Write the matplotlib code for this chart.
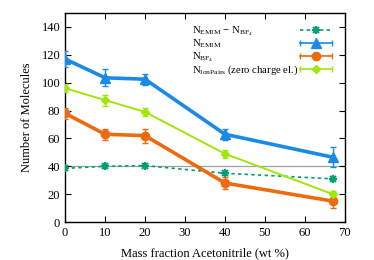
import numpy as np
import matplotlib.pyplot as plt

plt.rcParams["font.family"] = ["Liberation Serif", "DejaVu Serif"]
plt.rcParams["mathtext.fontset"] = "custom"
plt.rcParams["mathtext.rm"] = "Liberation Serif"

# Data

wt = [0, 10, 20, 40, 67]

n_emim = [117, 103.5, 102.5, 63, 46.5]
n_emim_err = [6, 6, 4, 4, 7]

n_bf4 = [78, 63, 62, 28, 15]
n_bf4_err = [4, 4, 5, 4, 5]

n_pairs = [96, 87.5, 79, 49, 20]
n_pairs_err = [3, 4, 3, 3, 2]

n_diff = [38.5, 40, 40.5, 35, 31]
n_diff_err = [1, 1, 1, 1, 1]

labels = [
    r"$\mathrm{N_{EMIM}}$ $-$ $\mathrm{N_{BF_4}}$",
    r"$\mathrm{N_{EMIM}}$",
    r"$\mathrm{N_{BF_4}}$",
    r"$\mathrm{N_{IonPairs}}$ (zero charge el.)",
]

col_diff = "#009e73"
col_emim = "#1a8ae6"
col_bf4 = "#ee6a0e"
col_pairs = "#a0e60a"

# Plot

fig = plt.figure(figsize=(3.74, 2.6), dpi=100)
ax = fig.add_axes([0.174, 0.146, 0.748, 0.804])

ax.axhline(40, color="#a0a0a0", linewidth=0.9, zorder=1)

ax.errorbar(wt, n_diff, yerr=n_diff_err, color=col_diff, linestyle=(0, (2, 2)),
            linewidth=1.2, marker="x", markersize=5, markeredgewidth=1.5,
            capsize=1.5, elinewidth=0.8, zorder=3)
ax.plot(wt, n_diff, linestyle="none", marker="+", markersize=6, markeredgewidth=1.5,
        color=col_diff, zorder=3)

ax.errorbar(wt, n_emim, yerr=n_emim_err, color=col_emim, linewidth=2.6,
            marker="^", markersize=7, capsize=2, elinewidth=1.0, zorder=4)
ax.errorbar(wt, n_bf4, yerr=n_bf4_err, color=col_bf4, linewidth=2.6,
            marker="o", markersize=6, capsize=2, elinewidth=1.0, zorder=4)
ax.errorbar(wt, n_pairs, yerr=n_pairs_err, color=col_pairs, linewidth=1.4,
            marker="D", markersize=4, capsize=2, elinewidth=1.0, zorder=4)

ax.set_xlim(0, 70)
ax.set_ylim(0, 150)
ax.set_xticks(np.arange(0, 71, 10))
ax.set_yticks(np.arange(0, 141, 20))
ax.tick_params(direction="in", top=True, right=True, labelsize=9, length=4, width=0.8)
for spine in ax.spines.values():
    spine.set_linewidth(1.0)

ax.set_xlabel("Mass fraction Acetonitrile (wt %)", fontsize=9, labelpad=6)
ax.set_ylabel("Number of Molecules", fontsize=9, labelpad=6)

# Key drawn gnuplot style: left-aligned text, sample with horizontal error bar on the right

key_rows = [0.919, 0.855, 0.793, 0.731]
key_styles = [
    dict(color=col_diff, linestyle=(0, (2, 2)), marker="x", markersize=5, markeredgewidth=1.5),
    dict(color=col_emim, linestyle="-", marker="^", markersize=7),
    dict(color=col_bf4, linestyle="-", marker="o", markersize=6),
    dict(color=col_pairs, linestyle="-", marker="D", markersize=4),
]
for label, y, style in zip(labels, key_rows, key_styles):
    ax.text(0.452, y - 0.017, label, transform=ax.transAxes, fontsize=7.7, ha="left",
            va="baseline")
    ax.plot([0.839, 0.954], [y, y], transform=ax.transAxes, color=style["color"],
            linestyle=style["linestyle"], linewidth=1.2, clip_on=False)
    if style["linestyle"] == "-":
        ax.plot([0.839, 0.954], [y, y], transform=ax.transAxes, color=style["color"],
                linestyle="none", marker="|", markersize=4, markeredgewidth=1.0)
    ax.plot([0.896], [y], transform=ax.transAxes, color=style["color"], linestyle="none",
            marker=style["marker"], markersize=style["markersize"],
            markeredgewidth=style.get("markeredgewidth", 1.0))
    if style["marker"] == "x":
        ax.plot([0.896], [y], transform=ax.transAxes, color=style["color"], linestyle="none",
                marker="+", markersize=6, markeredgewidth=1.5)

plt.savefig("out.png", dpi=100)
